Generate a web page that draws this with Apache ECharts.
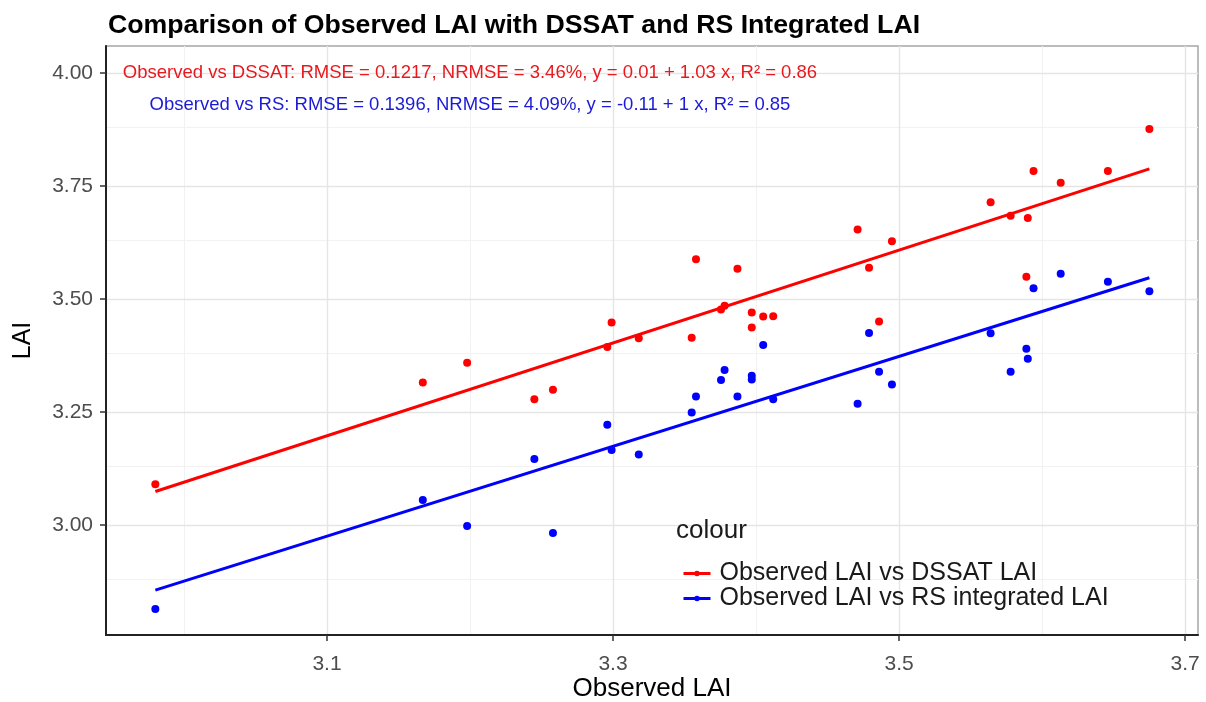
<!DOCTYPE html>
<html>
<head>
<meta charset="utf-8">
<script src="https://cdn.jsdelivr.net/npm/echarts@6/dist/echarts.min.js"></script>
<style>
html,body{margin:0;padding:0;background:#fff;}
#chart{width:1206px;height:702px;}
</style>
</head>
<body>
<div id="chart"></div>
<script>
// ---- data ----
const observed = [2.980, 3.167, 3.198, 3.245, 3.258, 3.296, 3.299, 3.318, 3.355, 3.358,
  3.3755, 3.378, 3.387, 3.397, 3.397, 3.405, 3.412, 3.471, 3.479, 3.486,
  3.495, 3.564, 3.578, 3.589, 3.590, 3.594, 3.613, 3.646, 3.675];
const dssatLAI = [3.090, 3.315, 3.359, 3.278, 3.299, 3.394, 3.448, 3.413, 3.414, 3.588,
  3.477, 3.485, 3.567, 3.470, 3.437, 3.461, 3.462, 3.654, 3.569, 3.450,
  3.628, 3.714, 3.684, 3.549, 3.679, 3.783, 3.757, 3.783, 3.876];
const rsLAI = [2.814, 3.055, 2.998, 3.146, 2.982, 3.222, 3.166, 3.156, 3.249, 3.284,
  3.321, 3.343, 3.284, 3.330, 3.322, 3.398, 3.278, 3.268, 3.425, 3.339,
  3.311, 3.424, 3.339, 3.390, 3.368, 3.524, 3.556, 3.538, 3.517];
// fitted regression line end points
const fitX = [2.980, 3.675];
const dssatFit = [3.074, 3.788];
const rsFit = [2.856, 3.547];
// tick values
const xMajor = [3.1, 3.3, 3.5, 3.7];
const xMinor = [3.0, 3.2, 3.4, 3.6];
const yMajor = [3.00, 3.25, 3.50, 3.75, 4.00];
const yMinor = [2.875, 3.125, 3.375, 3.625, 3.875];
const seriesNames = ['Observed LAI vs DSSAT LAI', 'Observed LAI vs RS integrated LAI'];
const annoDSSAT = 'Observed vs DSSAT: RMSE = 0.1217, NRMSE = 3.46%, y = 0.01 + 1.03 x, R\u00b2 = 0.86';
const annoRS = 'Observed vs RS: RMSE = 0.1396, NRMSE = 4.09%, y = -0.11 + 1 x, R\u00b2 = 0.85';
const annoPos = [[3.2, 4.0], [3.2, 3.93]];

// ---- build ----
const FONT = '"Liberation Sans", Arial, Helvetica, sans-serif';
const RED = '#ff0000', BLUE = '#0000ff';
const zip = (a, b) => a.map((v, i) => [v, b[i]]);

const gridLines = [].concat(
  xMinor.map(v => ({xAxis: v, lineStyle: {color: '#f2f2f2', width: 1}})),
  yMinor.map(v => ({yAxis: v, lineStyle: {color: '#f2f2f2', width: 1}})),
  xMajor.map(v => ({xAxis: v, lineStyle: {color: '#e5e5e5', width: 1.4}})),
  yMajor.map(v => ({yAxis: v, lineStyle: {color: '#e5e5e5', width: 1.4}}))
);

const chart = echarts.init(document.getElementById('chart'), null, {renderer: 'canvas'});
chart.setOption({
  animation: false,
  backgroundColor: '#fff',
  title: {
    text: 'Comparison of Observed LAI with DSSAT and RS Integrated LAI',
    left: 103, top: 7,
    textStyle: {fontFamily: FONT, fontWeight: 'bold', fontSize: 26.7, color: '#000'}
  },
  graphic: [{
    type: 'text', left: 676, top: 518, z: 100,
    style: {text: 'colour', fontFamily: FONT, fontSize: 26, fill: '#1a1a1a'}
  }],
  legend: {
    orient: 'vertical', left: 677, top: 556,
    itemWidth: 27, itemHeight: 7, itemGap: 0,
    data: seriesNames,
    lineStyle: {width: 3},
    textStyle: {fontFamily: FONT, fontSize: 25, color: '#1a1a1a', padding: [0, 0, 0, 4]},
    selectedMode: false
  },
  grid: {left: 106, right: 8, top: 46, bottom: 67, containLabel: false, outerBoundsMode: 'none',
    show: true, borderColor: '#a6a6a6', borderWidth: 1.5, backgroundColor: '#fff'},
  xAxis: {
    type: 'value', min: 2.9455, max: 3.709,
    name: 'Observed LAI', nameLocation: 'middle', nameGap: 41, nameMoveOverlap: false,
    nameTextStyle: {fontFamily: FONT, fontSize: 26, color: '#000'},
    axisLine: {show: true, onZero: false, lineStyle: {color: '#222', width: 2}},
    axisTick: {show: true, length: 6, customValues: xMajor, lineStyle: {color: '#333', width: 1.5}},
    axisLabel: {customValues: xMajor, formatter: v => v.toFixed(1), margin: 19,
      fontFamily: FONT, fontSize: 21, color: '#4d4d4d'},
    splitLine: {show: false}
  },
  yAxis: {
    type: 'value', min: 2.7566, max: 4.0597,
    name: 'LAI', nameLocation: 'middle', nameGap: 70, nameRotate: 90, nameMoveOverlap: false,
    nameTextStyle: {fontFamily: FONT, fontSize: 25, color: '#000'},
    axisLine: {show: true, onZero: false, lineStyle: {color: '#222', width: 2}},
    axisTick: {show: true, length: 6, customValues: yMajor, lineStyle: {color: '#333', width: 1.5}},
    axisLabel: {customValues: yMajor, formatter: v => v.toFixed(2), margin: 13,
      fontFamily: FONT, fontSize: 21, color: '#4d4d4d'},
    splitLine: {show: false}
  },
  series: [
    {type: 'line', name: 'grid', data: [], z: 0, silent: true,
      markLine: {silent: true, z: 0, zlevel: 0, symbol: ['none', 'none'], label: {show: false}, animation: false,
        lineStyle: {type: 'solid'}, data: gridLines}},
    {type: 'line', name: seriesNames[0], data: zip(fitX, dssatFit), z: 2,
      symbol: 'circle', symbolSize: 7, showSymbol: false,
      lineStyle: {color: RED, width: 3}, itemStyle: {color: RED}},
    {type: 'line', name: seriesNames[1], data: zip(fitX, rsFit), z: 2,
      symbol: 'circle', symbolSize: 7, showSymbol: false,
      lineStyle: {color: BLUE, width: 3}, itemStyle: {color: BLUE}},
    {type: 'scatter', name: 'dssatPts', data: zip(observed, dssatLAI), z: 3,
      symbolSize: 8, itemStyle: {color: RED, opacity: 1}},
    {type: 'scatter', name: 'rsPts', data: zip(observed, rsLAI), z: 3,
      symbolSize: 8, itemStyle: {color: BLUE, opacity: 1}},
    {type: 'scatter', name: 'anno', z: 4, silent: true, symbolSize: 0,
      itemStyle: {opacity: 1},
      data: [
        {value: annoPos[0], label: {show: true, position: 'inside', formatter: annoDSSAT,
          fontFamily: FONT, fontSize: 18.5, color: '#e8191e', opacity: 1}},
        {value: annoPos[1], label: {show: true, position: 'inside', formatter: annoRS,
          fontFamily: FONT, fontSize: 18.5, color: '#1a1ad8', opacity: 1}}
      ]}
  ]
});
</script>
</body>
</html>
